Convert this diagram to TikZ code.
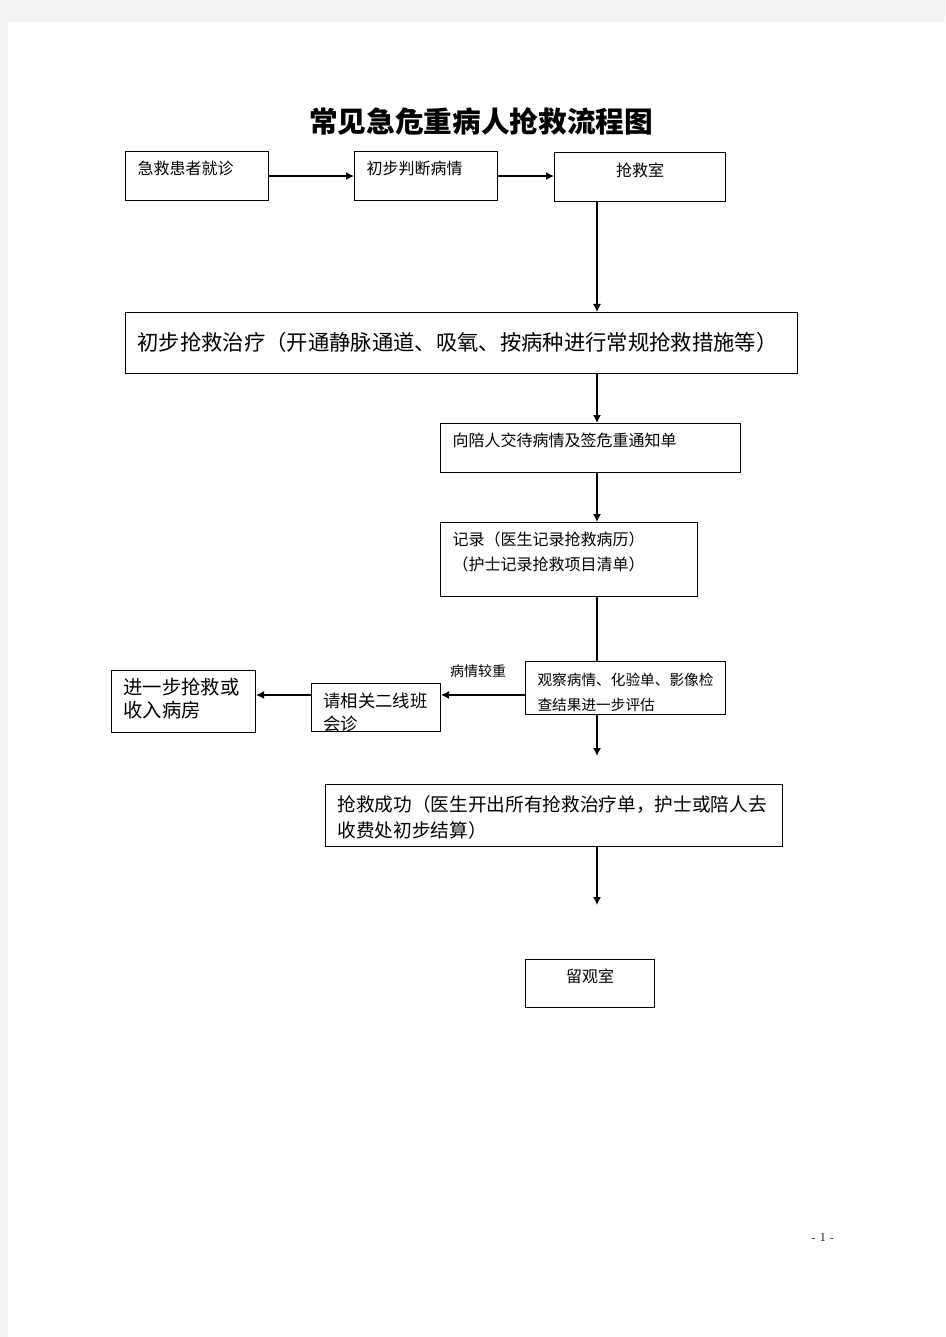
\documentclass[tikz,border=0pt]{standalone}
\usepackage{fontspec}
\newfontfamily\cjk{Noto Sans CJK SC}
\usetikzlibrary{arrows.meta}
\newlength{\pxunit}
\setlength{\pxunit}{0.75pt}

\begin{document}
\begin{tikzpicture}
    [x=0.75pt,y=-0.75pt,
    panel/.style n args={3}{draw,line width=0.8pt,anchor=north west,
    inner xsep=12\pxunit,inner ysep=0pt,align=left,
    text width=#1\pxunit,text height=#2\pxunit,text depth=#3\pxunit},
    link/.style={line width=0.9pt,-{Latex[length=6pt,width=6pt]}},
    note/.style={font=\cjk\fontsize{10.5}{12}\selectfont}]
    % page
    \fill[black!5] (0,0) rectangle (945,1337);
    \fill[white] (8,22) rectangle (945,1337);
    \useasboundingbox (0,0) rectangle (945,1337);
    \node (title) [font=\cjk\bfseries\fontsize{21.5}{24}\selectfont] at (481,121) {常见急危重病人抢救流程图};
    % top row
    \node (patient visit) [panel={119}{23}{26},font=\cjk\fontsize{12}{18}\selectfont] at (125,151) {急救患者就诊};
    \node (first judgement) [panel={119}{23}{26},font=\cjk\fontsize{12}{18}\selectfont] at (354,151) {初步判断病情};
    \node (rescue room) [panel={147}{24}{25},align=center,font=\cjk\fontsize{12}{18}\selectfont] at (554,152) {抢救室};
    % main column
    \node (initial treatment) [panel={648}{38}{23},font=\cjk\fontsize{16}{20}\selectfont] at (125,312) {初步抢救治疗（开通静脉通道、吸氧、按病种进行常规抢救措施等）};
    \node (notify) [panel={276}{23}{26},font=\cjk\fontsize{12}{18}\selectfont] at (440,423) {向陪人交待病情及签危重通知单};
    \node (record) [panel={233}{23}{51},font=\cjk\fontsize{12}{18.75}\selectfont] at (440,522) {记录（医生记录抢救病历）\\（护士记录抢救项目清单）};
    \node (observe) [panel={176}{24}{29},font=\cjk\fontsize{11}{18.75}\selectfont] at (525,661) {观察病情、化验单、影像检\\查结果进一步评估};
    \node (consult) [panel={105}{24}{24},font=\cjk\fontsize{13}{17.25}\selectfont] at (311,683) {请相关二线班\\会诊};
    \node (further rescue) [panel={120}{24}{38},font=\cjk\fontsize{14.5}{17.25}\selectfont] at (111,670) {进一步抢救或\\收入病房};
    \node (success) [panel={433}{27}{35},font=\cjk\fontsize{14}{19.5}\selectfont] at (325,784) {抢救成功（医生开出所有抢救治疗单，护士或陪人去\\收费处初步结算）};
    \node (observation room) [panel={105}{23}{25},align=center,font=\cjk\fontsize{12}{18}\selectfont] at (525,959) {留观室};
    \node (severe) [note] at (478,671) {病情较重};
    \node (page number) [font=\fontsize{9}{10}\selectfont] at (823,1237) {- 1 -};
    % connectors
    \coordinate (spine) at (597,0);
    \coordinate (side) at (0,695);
    \coordinate (observe end) at (597,756);
    \coordinate (success end) at (597,905);
    \draw[link] (patient visit.east) -- (first judgement.west);
    \draw[link] (first judgement.east) -- (first judgement.east -| rescue room.west);
    \draw[link] (rescue room.south -| spine) -- (initial treatment.north -| spine);
    \draw[link] (initial treatment.south -| spine) -- (notify.north -| spine);
    \draw[link] (notify.south -| spine) -- (record.north -| spine);
    \draw[line width=0.9pt] (record.south -| spine) -- (observe.north -| spine);
    \draw[link] (observe.west |- side) -- (consult.east |- side);
    \draw[link] (consult.west |- side) -- (further rescue.east |- side);
    \draw[link] (observe.south -| spine) -- (observe end);
    \draw[link] (success.south -| spine) -- (success end);
\end{tikzpicture}
\end{document}
